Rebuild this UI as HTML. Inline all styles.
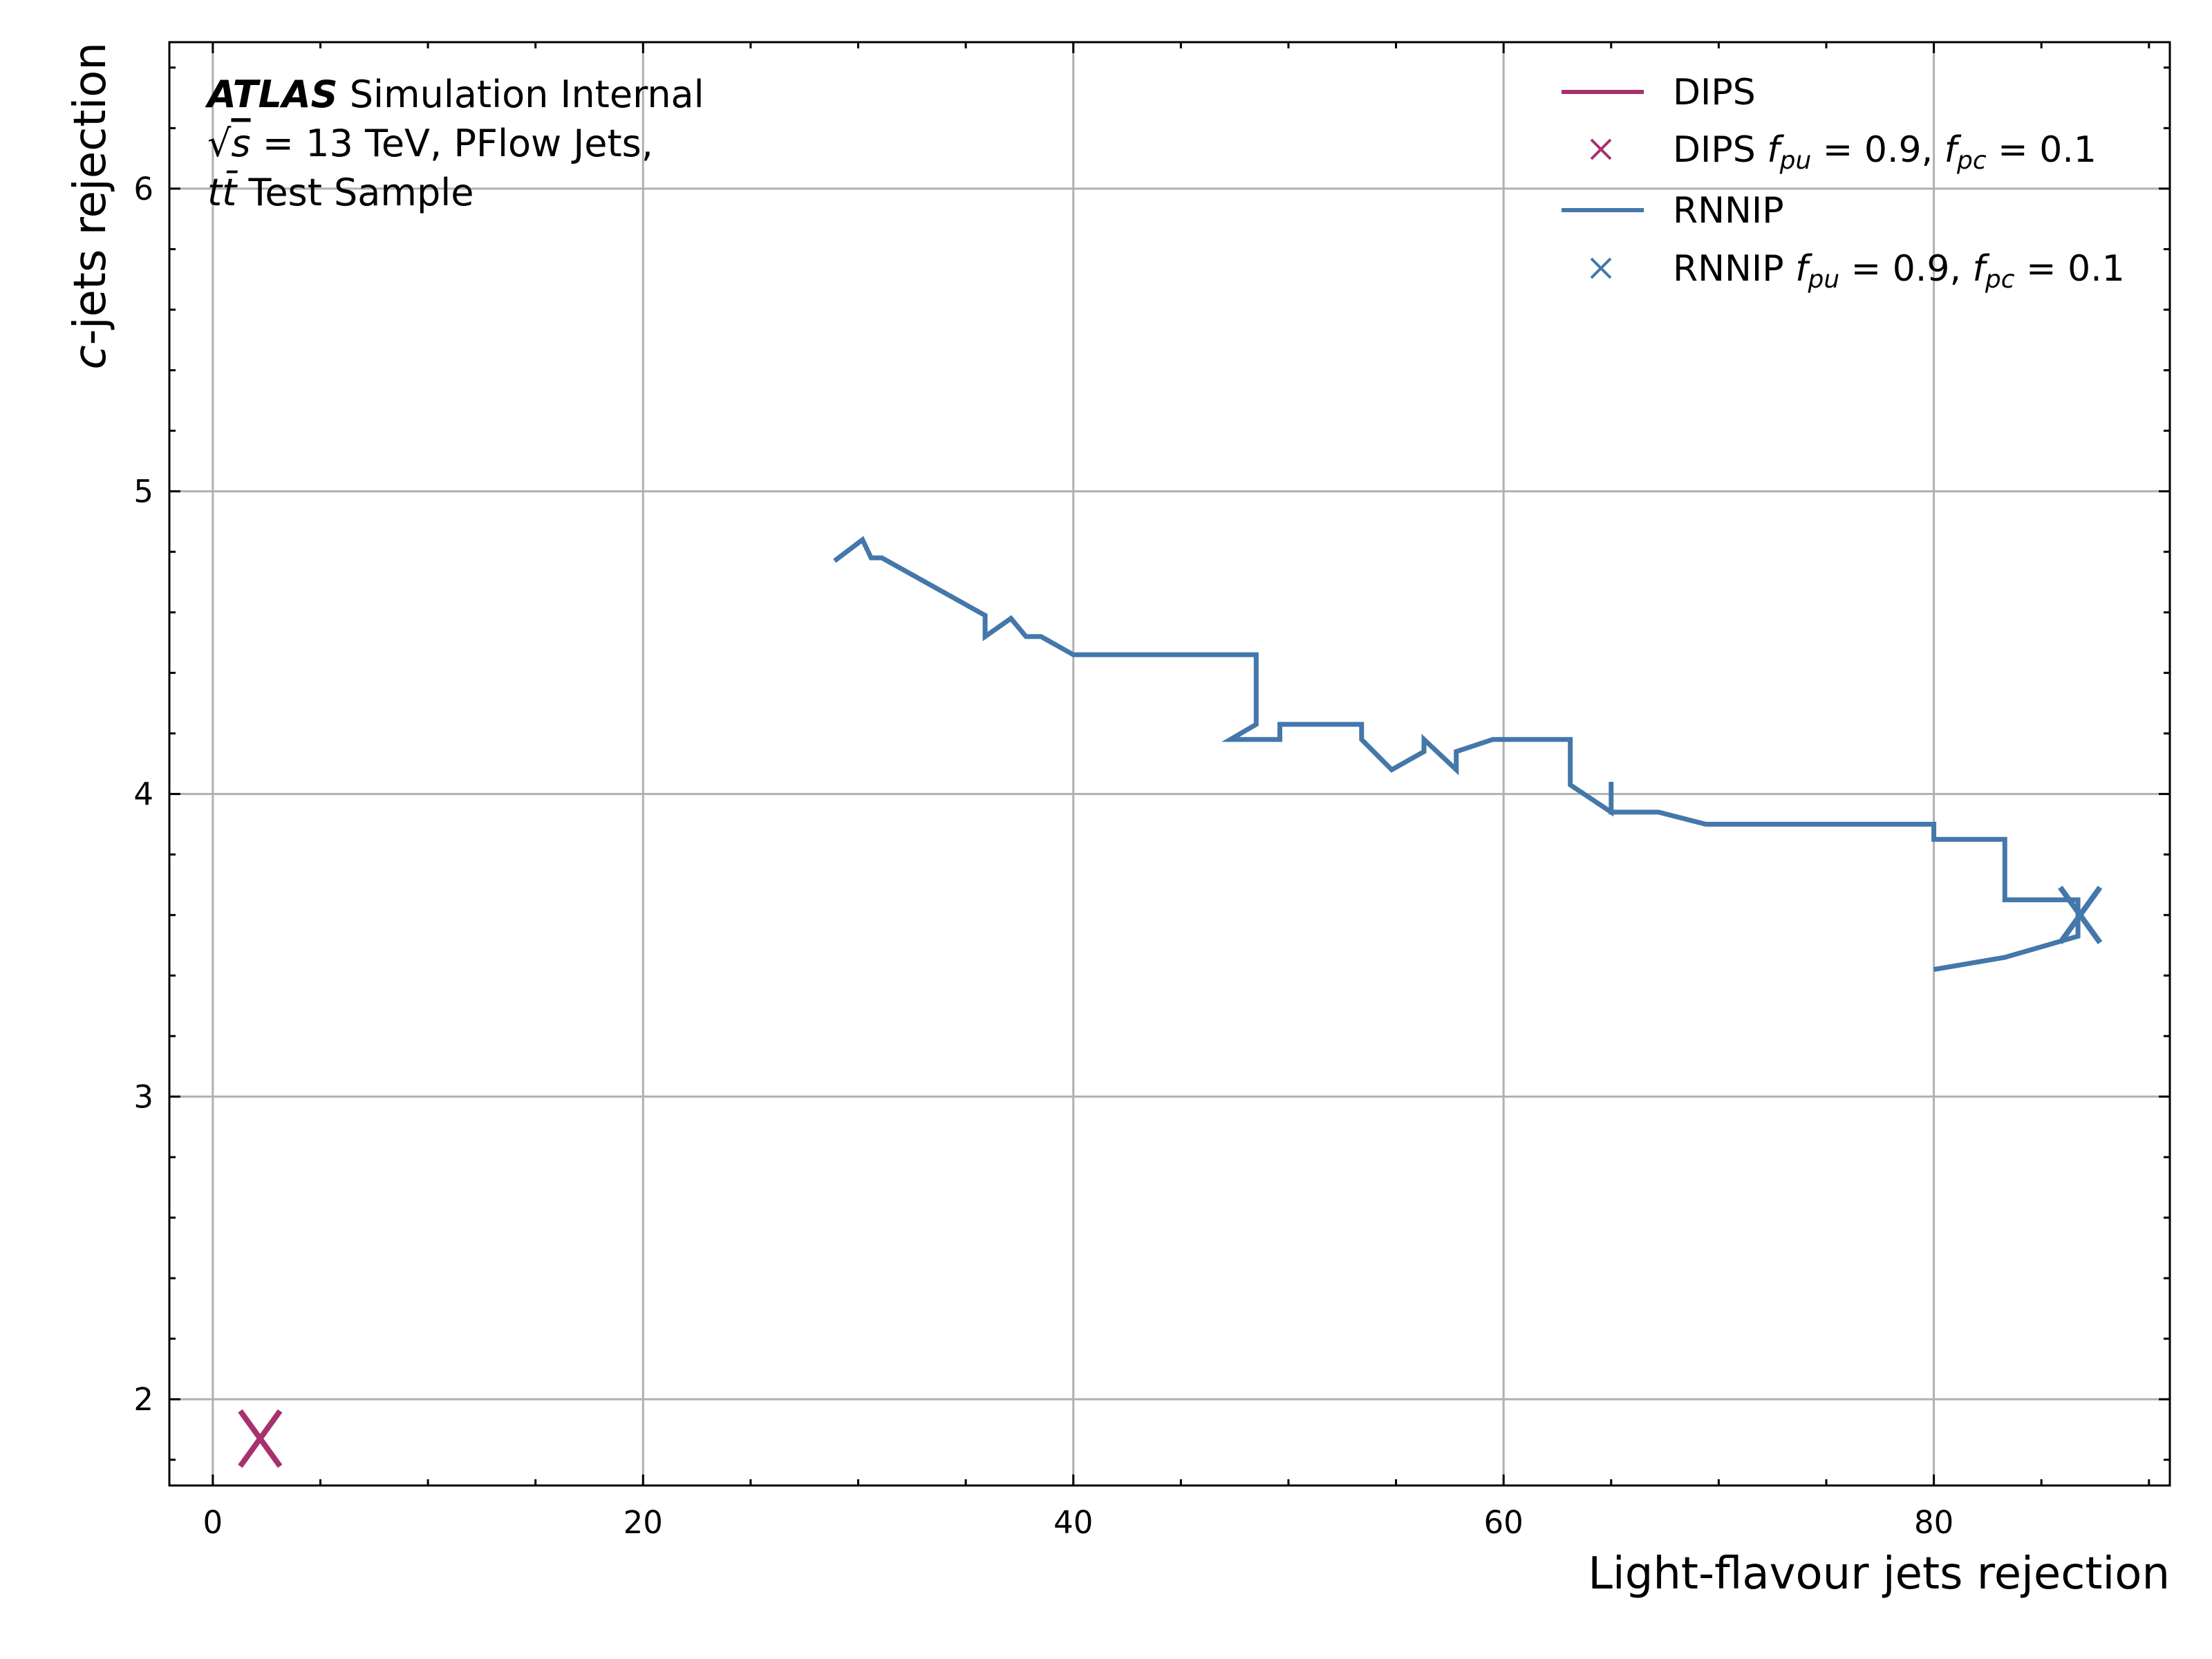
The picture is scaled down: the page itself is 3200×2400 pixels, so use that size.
<!DOCTYPE html>
<html><head><meta charset="utf-8"><style>
html,body{margin:0;padding:0;background:#fff;}
svg{display:block;font-family:"DejaVu Sans","Liberation Sans",sans-serif;}
</style></head><body>
<svg id="chart" width="3200" height="2400" viewBox="0 0 3200 2400" xmlns="http://www.w3.org/2000/svg">
<g id="grid"></g>
<g id="series"></g>
<rect x="245" y="61" width="2894" height="2088" fill="none" stroke="#000" stroke-width="3"/>
<g id="ticks"></g>
<text x="3139" y="2298" font-size="64" text-anchor="end">Light-flavour jets rejection</text>
<text transform="translate(152,61) rotate(-90)" font-size="64" text-anchor="end"><tspan font-style="italic">c</tspan>-jets rejection</text>
<g font-size="54">
<text x="300" y="155"><tspan font-weight="bold" font-style="italic">ATLAS</tspan> Simulation Internal</text>
<text x="300" y="226">√<tspan font-style="italic" text-decoration="overline">s</tspan> = 13 TeV, PFlow Jets,</text>
<text x="300" y="297"><tspan font-style="italic">tt̄</tspan> Test Sample</text>
</g>
<g font-size="52">
<line x1="2259" y1="133" x2="2378" y2="133" stroke="#a8306f" stroke-width="6"/>
<text x="2420" y="151">DIPS</text>
<path d="M2302 202 L2330 230 M2330 202 L2302 230" stroke="#a8306f" stroke-width="4"/>
<text x="2420" y="234">DIPS <tspan font-style="italic">f</tspan><tspan font-style="italic" font-size="36" dy="10">pu</tspan><tspan dy="-10"> = 0.9, </tspan><tspan font-style="italic">f</tspan><tspan font-style="italic" font-size="36" dy="10">pc</tspan><tspan dy="-10"> = 0.1</tspan></text>
<line x1="2259" y1="304" x2="2378" y2="304" stroke="#4477aa" stroke-width="6"/>
<text x="2420" y="322">RNNIP</text>
<path d="M2302 374 L2330 402 M2330 374 L2302 402" stroke="#4477aa" stroke-width="4"/>
<text x="2420" y="406">RNNIP <tspan font-style="italic">f</tspan><tspan font-style="italic" font-size="36" dy="10">pu</tspan><tspan dy="-10"> = 0.9, </tspan><tspan font-style="italic">f</tspan><tspan font-style="italic" font-size="36" dy="10">pc</tspan><tspan dy="-10"> = 0.1</tspan></text>
</g>
</svg>
<script>
const rnnipX = [28.9,30.2,30.6,31.1,35.9,35.9,37.1,37.8,38.5,40.0,48.5,48.5,47.3,49.6,49.6,53.4,53.4,54.8,56.3,56.3,57.8,57.8,59.5,63.1,63.1,65.0,65.0,65.0,67.2,69.4,80.0,80.0,83.3,83.3,86.7,86.7,83.3,80.0];
const rnnipY = [4.77,4.84,4.78,4.78,4.59,4.52,4.58,4.52,4.52,4.46,4.46,4.23,4.18,4.18,4.23,4.23,4.18,4.08,4.14,4.18,4.08,4.14,4.18,4.18,4.03,3.94,4.04,3.94,3.94,3.90,3.90,3.85,3.85,3.65,3.65,3.53,3.46,3.42];
const rnnipWP = [86.8, 3.60];
const dipsWP = [2.2, 1.87];
const xTicks = [0,20,40,60,80];
const yTicks = [2,3,4,5,6];

const X0=245,X1=3139,Y0=61,Y1=2149;
const xmin=-2.02,xmax=90.97,ymin=1.715,ymax=6.484;
function sx(v){return X0+(v-xmin)/(xmax-xmin)*(X1-X0);}
function sy(v){return Y1-(v-ymin)/(ymax-ymin)*(Y1-Y0);}
const NS='http://www.w3.org/2000/svg';
function mk(tag,attrs,parent){const e=document.createElementNS(NS,tag);for(const k in attrs)e.setAttribute(k,attrs[k]);parent.appendChild(e);return e;}
const grid=document.getElementById('grid'),ticks=document.getElementById('ticks'),series=document.getElementById('series');
xTicks.forEach(t=>{
  const g=mk('line',{x1:sx(t),x2:sx(t),y1:Y0,y2:Y1,stroke:'#b0b0b0','stroke-width':3},grid);
  
  
  const l=mk('text',{x:sx(t),y:2218,'font-size':45,'text-anchor':'middle'},ticks);
  l.textContent=t;
  
  
});
yTicks.forEach(t=>{
  const g=mk('line',{x1:X0,x2:X1,y1:sy(t),y2:sy(t),stroke:'#b0b0b0','stroke-width':3},grid);
  
  
  const l=mk('text',{x:222,y:sy(t)+16,'font-size':45,'text-anchor':'end'},ticks);
  l.textContent=t;
  
  
});
let d='';
for(let v=0;v<=90;v+=5){const x=sx(v),L=(v%20===0)?16:9;d+=`M${x} ${Y1}v${-L}M${x} ${Y0}v${L}`;}
for(let i=18;i<=64;i+=2){const v=i/10;if(v<ymin||v>ymax)continue;const y=sy(v),L=(i%10===0)?16:9;d+=`M${X0} ${y}h${L}M${X1} ${y}h${-L}`;}
const tk=mk('path',{d:d,stroke:'#000','stroke-width':3,fill:'none'},ticks);


const pts=rnnipX.map((x,i)=>sx(x)+','+sy(rnnipY[i])).join(' ');
const line=mk('polyline',{points:pts,fill:'none',stroke:'#4477aa','stroke-width':7,'stroke-linejoin':'miter'},series);


function cross(p,color,name){const x=sx(p[0]),y=sy(p[1]),r=40;
  const c=mk('path',{d:`M${x-r*0.72} ${y-r} L${x+r*0.72} ${y+r} M${x+r*0.72} ${y-r} L${x-r*0.72} ${y+r}`,stroke:color,'stroke-width':8},series);
  
  }
cross(rnnipWP,'#4477aa','rnnip-wp-marker');
cross(dipsWP,'#a8306f','dips-wp-marker');
</script>
</body></html>
